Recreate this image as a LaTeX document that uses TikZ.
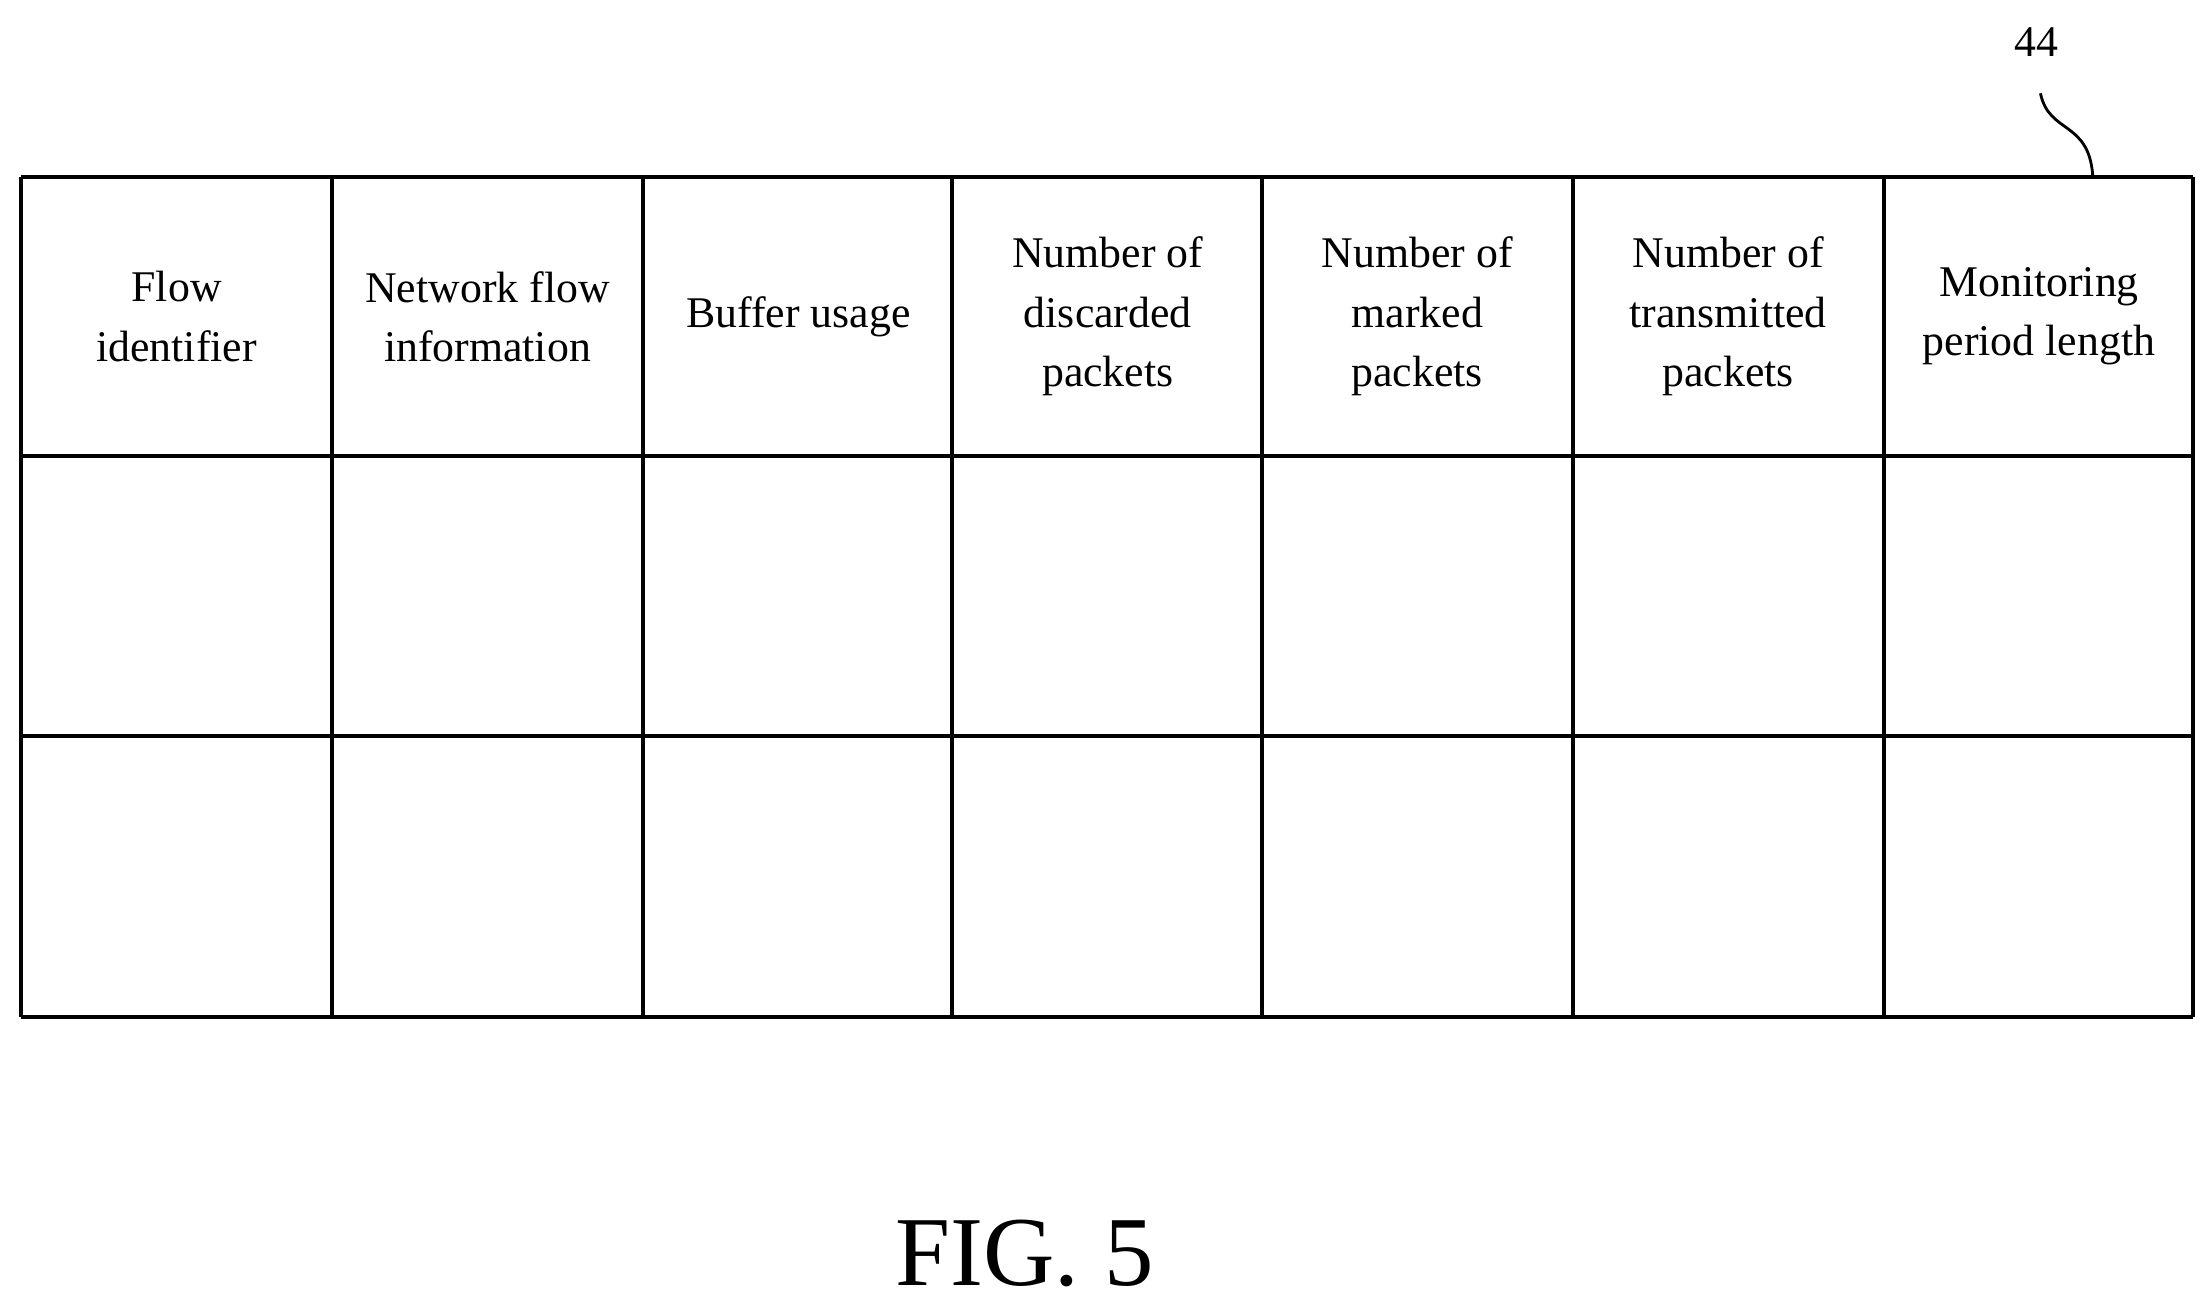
\documentclass[tikz,border=0pt]{standalone}
\usepackage{fontspec}
\setmainfont{Liberation Serif}
\begin{document}
\begin{tikzpicture}[x=0.5pt,y=-0.5pt,
  grid/.style={line width=1.4pt},
  hdr/.style={align=center,font=\fontsize{15.5}{21}\selectfont,inner sep=0pt}]
\useasboundingbox (0,0) rectangle (1564,923);
\foreach \x in {15,235,455,674,893,1113,1333,1552} \draw[grid] (\x,125) -- (\x,720);
\foreach \y in {125,323,521,720} \draw[grid] (15,\y) -- (1552,\y);
\node[hdr] (c1) at (125,224) {Flow\\identifier};
\node[hdr] (c2) at (345,224) {Network flow\\information};
\node[hdr] (c3) at (565,224) {Buffer usage};
\node[hdr] (c4) at (784,224) {Number of\\discarded\\packets};
\node[hdr] (c5) at (1003,224) {Number of\\marked\\packets};
\node[hdr] (c6) at (1223,224) {Number of\\transmitted\\packets};
\node[hdr] (c7) at (1443,224) {Monitoring\\period length};
\node[hdr] (ref) at (1441,30) {44};
\coordinate (t) at (1481,124);
\draw[line width=1pt] (1444,66) .. controls (1450,95) and (1478,85) .. (t);
\node[font=\fontsize{35}{40}\selectfont] (fig) at (725,887) {FIG. 5};
\end{tikzpicture}
\end{document}
